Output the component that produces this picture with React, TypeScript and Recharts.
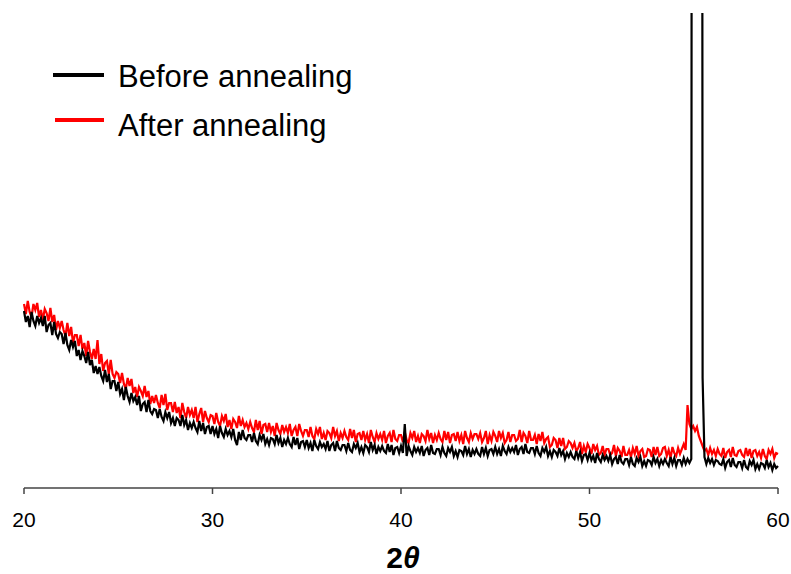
import React from 'react';
import { LineChart, Line, XAxis, YAxis, Legend, Label } from 'recharts';

// Scan grid: 20.0° to 60.0° in 0.1° steps
const ANGLE_START = 20;
const ANGLE_STEP = 0.1;

// Diffracted intensity (arb. units), one row per degree of 2θ
const beforeAnnealing = [
  1770, 1660, 1720, 1610, 1760, 1670, 1620, 1720, 1650, 1700,
  1620, 1720, 1560, 1630, 1650, 1530, 1660, 1540, 1500, 1560,
  1540, 1440, 1550, 1430, 1380, 1480, 1410, 1470, 1320, 1380,
  1280, 1370, 1320, 1250, 1360, 1230, 1280, 1150, 1220, 1140,
  1210, 1120, 1070, 1180, 1060, 1140, 990, 1070, 1070, 970,
  1060, 940, 990, 880, 1010, 920, 860, 950, 870, 910,
  830, 920, 770, 840, 860, 760, 880, 770, 740, 790,
  780, 700, 790, 710, 670, 760, 700, 760, 650, 700,
  620, 700, 680, 620, 730, 630, 680, 580, 650, 600,
  660, 600, 560, 670, 570, 650, 540, 610, 620, 540,
  620, 540, 590, 500, 620, 550, 510, 590, 530, 570,
  510, 590, 480, 430, 560, 480, 580, 500, 480, 530,
  530, 460, 550, 470, 440, 530, 480, 540, 440, 490,
  430, 500, 490, 440, 530, 450, 500, 410, 480, 440,
  500, 440, 410, 510, 430, 500, 390, 460, 470, 410,
  480, 400, 450, 370, 480, 420, 390, 460, 410, 440,
  390, 470, 370, 430, 450, 370, 470, 400, 380, 430,
  430, 370, 450, 380, 360, 440, 400, 450, 360, 410,
  350, 430, 410, 360, 460, 380, 430, 340, 410, 370,
  420, 370, 350, 440, 360, 430, 330, 400, 410, 350,
  420, 350, 640, 320, 420, 370, 330, 410, 360, 400,
  350, 420, 320, 380, 400, 330, 430, 350, 340, 390,
  390, 330, 410, 350, 320, 400, 360, 410, 320, 370,
  310, 380, 370, 330, 420, 340, 390, 310, 380, 340,
  390, 340, 320, 410, 340, 400, 320, 380, 390, 340,
  410, 340, 390, 320, 420, 370, 340, 410, 360, 400,
  360, 430, 330, 390, 410, 340, 440, 360, 350, 400,
  400, 340, 420, 350, 320, 400, 360, 410, 320, 370,
  310, 380, 360, 320, 400, 330, 370, 290, 350, 310,
  360, 310, 290, 370, 300, 360, 270, 330, 340, 280,
  350, 280, 320, 250, 350, 290, 260, 330, 280, 320,
  270, 330, 240, 290, 310, 240, 330, 260, 240, 290,
  290, 230, 310, 240, 220, 300, 260, 310, 220, 270,
  220, 280, 270, 230, 310, 250, 290, 220, 280, 240,
  290, 250, 220, 310, 240, 300, 220, 280, 280, 230,
  300, 240, 290, 250, 290, 30000, 30000, 30000, 30000, 30000,
  1100, 310, 240, 300, 250, 290, 230, 280, 270, 240,
  230, 290, 200, 260, 280, 210, 300, 230, 210, 260,
  260, 200, 280, 210, 190, 270, 230, 280, 190, 240,
  190, 250, 240, 200, 280, 210, 250, 180, 240, 200,
  220,
];

const afterAnnealing = [
  1840, 1740, 1870, 1760, 1710, 1840, 1780, 1850, 1710, 1780,
  1680, 1790, 1750, 1670, 1800, 1660, 1730, 1580, 1670, 1600,
  1670, 1580, 1520, 1650, 1520, 1610, 1450, 1530, 1530, 1420,
  1530, 1390, 1450, 1320, 1470, 1360, 1290, 1390, 1290, 1480,
  1240, 1340, 1170, 1250, 1270, 1140, 1280, 1140, 1100, 1160,
  1140, 1050, 1150, 1040, 990, 1100, 1020, 1090, 950, 1010,
  910, 1010, 970, 920, 1020, 910, 970, 840, 920, 850,
  930, 850, 800, 930, 830, 940, 780, 850, 850, 760,
  860, 750, 810, 700, 850, 760, 700, 810, 730, 780,
  700, 810, 660, 740, 800, 660, 770, 700, 660, 730,
  720, 640, 750, 660, 620, 720, 670, 740, 610, 680,
  590, 690, 660, 600, 720, 620, 680, 610, 650, 590,
  660, 600, 560, 680, 580, 670, 540, 630, 640, 560,
  650, 560, 620, 520, 650, 580, 540, 630, 560, 610,
  550, 640, 520, 580, 610, 520, 640, 570, 520, 580,
  580, 510, 610, 520, 490, 590, 540, 610, 490, 550,
  480, 570, 550, 500, 610, 520, 570, 470, 550, 500,
  570, 510, 480, 590, 500, 580, 460, 540, 550, 480,
  570, 480, 540, 450, 580, 510, 460, 550, 490, 540,
  480, 570, 450, 520, 550, 460, 580, 490, 470, 530,
  530, 460, 560, 480, 450, 550, 500, 570, 460, 520,
  450, 540, 520, 470, 580, 490, 550, 450, 530, 480,
  550, 490, 460, 570, 480, 560, 450, 530, 540, 470,
  560, 470, 530, 440, 570, 500, 460, 550, 490, 540,
  540, 490, 550, 460, 500, 570, 440, 530, 470, 560,
  520, 460, 570, 500, 550, 450, 480, 560, 460, 530,
  530, 470, 490, 580, 460, 550, 520, 450, 570, 480,
  480, 530, 440, 540, 470, 560, 450, 490, 510, 410,
  430, 500, 480, 400, 500, 420, 500, 390, 410, 470,
  450, 400, 450, 370, 400, 460, 340, 420, 360, 440,
  400, 340, 440, 380, 420, 330, 350, 420, 330, 390,
  390, 330, 350, 430, 320, 400, 370, 310, 420, 330,
  330, 380, 310, 400, 340, 420, 320, 370, 390, 310,
  320, 390, 380, 310, 410, 330, 410, 320, 340, 400,
  410, 320, 380, 300, 410, 350, 320, 400, 340, 390,
  440, 380, 830, 640, 590, 620, 570, 610, 520, 470,
  420, 370, 390, 330, 400, 340, 380, 320, 390, 340,
  320, 400, 300, 360, 380, 310, 410, 330, 320, 370,
  380, 330, 310, 400, 320, 390, 300, 370, 380, 320,
  360, 300, 390, 320, 290, 380, 340, 390, 300, 350,
  340,
];

const xTicks = [20, 30, 40, 50, 60];
const intensityRange = [0, 4750];

const rows = beforeAnnealing.map((value, i) => ({
  angle: +(ANGLE_START + i * ANGLE_STEP).toFixed(1),
  before: value,
  after: afterAnnealing[i],
}));

const FONT = '"Liberation Sans", Arial, Helvetica, sans-serif';

function LegendBox(props: any) {
  const items = [...(props.payload || [])].reverse();
  const lineY = [75, 120];
  const textY = [87, 136];
  const lineX = [53, 55];
  return (
    <svg width={400} height={150} style={{ display: 'block' }}>
      {items.map((item: any, i: number) => (
        <g key={item.value}>
          <line x1={lineX[i]} x2={104} y1={lineY[i]} y2={lineY[i]} stroke={item.color} strokeWidth={4} />
          <text x={118} y={textY[i]} fontSize={31} fontFamily={FONT} fill="#000">
            {item.value}
          </text>
        </g>
      ))}
    </svg>
  );
}

function AxisTitle(props: any) {
  const vb = props.viewBox || {};
  const cx = vb.x + vb.width / 2 + 2;
  return (
    <text x={cx} y={vb.y + 80} textAnchor="middle" fontSize={30} fontWeight="bold" fontFamily={FONT} fill="#000">
      <tspan fontStyle="normal">2</tspan>
      <tspan fontStyle="italic">θ</tspan>
    </text>
  );
}

export default function App() {
  return (
    <div style={{ position: 'absolute', left: 0, top: 0, width: 791, height: 574, background: '#fff', fontFamily: FONT }}>
      <LineChart
        width={791}
        height={574}
        data={rows}
        margin={{ top: 13, right: 13, left: 24, bottom: 0 }}
      >
        <XAxis
          dataKey="angle"
          type="number"
          domain={[20, 60]}
          ticks={xTicks}
          height={86}
          stroke="#444"
          strokeWidth={1.5}
          tickSize={6}
          tickMargin={18}
          tick={{ fontSize: 21, fill: '#000', fontFamily: FONT }}
        >
          <Label content={<AxisTitle />} />
        </XAxis>
        <XAxis xAxisId="top" orientation="top" type="number" domain={[20, 60]} height={0} tick={false} tickLine={false} axisLine={{ stroke: '#a0a0a0', strokeWidth: 2 }} />
        <YAxis
          type="number"
          domain={intensityRange}
          allowDataOverflow
          width={0}
          tick={false}
          tickLine={false}
          axisLine={{ stroke: '#a0a0a0', strokeWidth: 2 }}
        />
        <YAxis yAxisId="right" orientation="right" type="number" domain={intensityRange} width={0} tick={false} tickLine={false} axisLine={{ stroke: '#a0a0a0', strokeWidth: 2 }} />
        <Legend
          layout="vertical"
          align="center"
          verticalAlign="middle"
          content={<LegendBox />}
          wrapperStyle={{ position: 'absolute', left: 0, top: 0, width: 400, height: 150 }}
        />
        <Line
          name="After annealing"
          dataKey="after"
          stroke="#ff0000"
          strokeWidth={2.2}
          dot={false}
          isAnimationActive={false}
        />
        <Line
          name="Before annealing"
          dataKey="before"
          stroke="#000000"
          strokeWidth={2.2}
          dot={false}
          isAnimationActive={false}
        />
      </LineChart>
    </div>
  );
}
